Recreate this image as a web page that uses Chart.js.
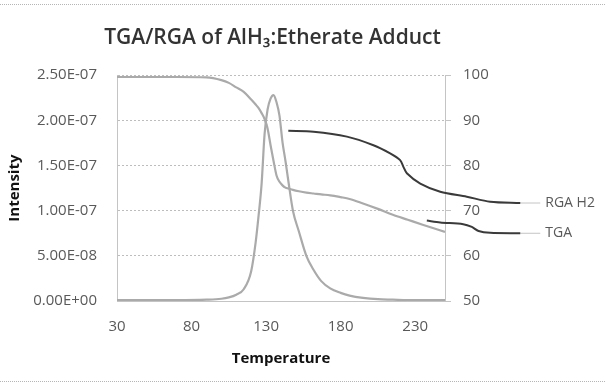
<!DOCTYPE html>
<html>
<head>
<meta charset="utf-8">
<script src="https://cdn.jsdelivr.net/npm/chart.js@4/dist/chart.umd.min.js"></script>
<style>
  body { margin: 0; background: #fff; }
  #wrap { position: relative; width: 605px; height: 390px; }
  .rule { position: absolute; left: 0; width: 605px; border-top: 1px dotted #b5b5b5; }
</style>
</head>
<body>
<div id="wrap">
  <div class="rule" style="top:4px"></div>
  <div class="rule" style="top:381px"></div>
  <canvas id="chart"></canvas>
</div>
<script>
// Temperature samples shared by both measured curves
const temps = [30, 50, 70, 90, 100, 105, 110, 115, 120, 123, 125, 127, 129, 131, 133, 135, 137, 139, 141, 143, 145, 148, 152, 157, 162, 167, 173, 180, 186, 195, 205, 215, 225, 235, 250];
// RGA H2 intensity (left axis)
const rgaH2 = [0.01e-7, 0.01e-7, 0.01e-7, 0.015e-7, 0.025e-7, 0.04e-7, 0.07e-7, 0.13e-7, 0.33e-7, 0.65e-7, 0.95e-7, 1.3e-7, 1.85e-7, 2.12e-7, 2.24e-7, 2.28e-7, 2.2e-7, 2.05e-7, 1.76e-7, 1.55e-7, 1.32e-7, 1.0e-7, 0.77e-7, 0.5e-7, 0.34e-7, 0.22e-7, 0.14e-7, 0.09e-7, 0.06e-7, 0.035e-7, 0.02e-7, 0.015e-7, 0.01e-7, 0.01e-7, 0.01e-7];
// TGA weight % (right axis)
const tga = [99.6, 99.6, 99.6, 99.5, 98.9, 98.3, 97.3, 96.3, 94.6, 93.5, 92.7, 91.6, 90.3, 88.2, 84.5, 81.0, 77.8, 76.4, 75.6, 75.1, 74.9, 74.6, 74.3, 74.0, 73.8, 73.6, 73.4, 73.0, 72.6, 71.6, 70.4, 69.1, 68.0, 66.9, 65.3];

// Callout leader lines (drawn from the label back towards the curve)
const rgaLeaderT = [300.5, 280.3, 264.6, 246.8, 233.4, 224.4, 222.1, 219.9, 213.2, 202, 184.2, 161.8, 144.9];
const rgaLeaderV = [71.7, 72.0, 73.1, 74.2, 76.0, 78.3, 79.7, 81.2, 82.7, 84.5, 86.4, 87.5, 87.7];
const tgaLeaderT = [300.5, 280.3, 272.5, 268, 262.2, 246.8, 237.8];
const tgaLeaderV = [65.0, 65.1, 65.5, 66.4, 67.0, 67.4, 67.8];
const tailT = [313.9, 300.5];
const rgaTailV = [71.7, 71.7];
const tgaTailV = [65.0, 65.0];
const calloutLabels = ['RGA H2', 'TGA'];

const xTicks = [30, 80, 130, 180, 230];
const yTicks = [0, 0.5e-7, 1.0e-7, 1.5e-7, 2.0e-7, 2.5e-7];

const FONT = "'Open Sans', sans-serif";
const TICK_COLOR = '#595959';

function pts(xs, ys) {
  return xs.map((x, i) => ({ x: x, y: ys[i] }));
}

function sci(v) {
  if (Math.abs(v) < 1e-20) return '0.00E+00';
  const e = Math.floor(Math.log10(Math.abs(v)) + 1e-9);
  const m = v / Math.pow(10, e);
  return m.toFixed(2) + 'E' + (e < 0 ? '-' : '+') + String(Math.abs(e)).padStart(2, '0');
}

// Writes the callout labels at the end of each thin tail line
const calloutPlugin = {
  id: 'callouts',
  afterDatasetsDraw(chart) {
    const ctx = chart.ctx;
    const xs = chart.scales.x;
    const ys = chart.scales.y2;
    const tails = [rgaTailV, tgaTailV];
    ctx.save();
    ctx.font = '14px ' + FONT;
    ctx.fillStyle = TICK_COLOR;
    ctx.textAlign = 'left';
    ctx.textBaseline = 'middle';
    calloutLabels.forEach((lab, i) => {
      ctx.fillText(lab, xs.getPixelForValue(tailT[0]) + 5, ys.getPixelForValue(tails[i][0]));
    });
    ctx.restore();
  }
};

const curveStyle = { borderColor: '#aaaaaa', borderWidth: 2.2, pointRadius: 0, cubicInterpolationMode: 'monotone', fill: false };
const leaderStyle = { borderColor: '#3a3a3a', borderWidth: 2, pointRadius: 0, tension: 0.3, fill: false, clip: false, yAxisID: 'y2' };
const tailStyle = { borderColor: '#c4c4c4', borderWidth: 1, pointRadius: 0, fill: false, clip: false, yAxisID: 'y2' };

new Chart(document.getElementById('chart'), {
  type: 'line',
  data: {
    datasets: [
      Object.assign({ label: 'RGA H2', data: pts(temps, rgaH2), yAxisID: 'y' }, curveStyle),
      Object.assign({ label: 'TGA', data: pts(temps, tga), yAxisID: 'y2' }, curveStyle),
      Object.assign({ label: 'RGA H2 callout', data: pts(rgaLeaderT, rgaLeaderV) }, leaderStyle),
      Object.assign({ label: 'TGA callout', data: pts(tgaLeaderT, tgaLeaderV) }, leaderStyle),
      Object.assign({ label: 'RGA H2 tail', data: pts(tailT, rgaTailV) }, tailStyle),
      Object.assign({ label: 'TGA tail', data: pts(tailT, tgaTailV) }, tailStyle)
    ]
  },
  options: {
    responsive: true,
    maintainAspectRatio: false,
    animation: false,
    // right padding keeps the title centred over the plot like the original
    layout: { padding: { left: 0, right: 60, top: 0, bottom: 18 } },
    plugins: {
      legend: { display: false },
      tooltip: { enabled: false },
      title: {
        display: true,
        text: 'TGA/RGA of AlH\u2083:Etherate Adduct',
        color: '#333',
        font: { family: FONT, size: 21, weight: '600' },
        padding: { top: 25, bottom: 25 }
      }
    },
    scales: {
      x: {
        type: 'linear',
        min: 30,
        max: 250,
        afterBuildTicks: s => { s.ticks = xTicks.map(v => ({ value: v })); },
        afterFit: s => { s.height = 71; },
        grid: { display: false },
        border: { color: '#c4c4c4', dash: [2, 2] },
        ticks: { color: TICK_COLOR, font: { family: FONT, size: 15 }, padding: 9 },
        title: { display: true, text: 'Temperature', color: '#111', font: { family: FONT, size: 15, weight: 'bold' }, padding: { bottom: 4 } }
      },
      y: {
        position: 'left',
        min: 0,
        max: 2.5e-7,
        afterBuildTicks: s => { s.ticks = yTicks.map(v => ({ value: v })); },
        afterFit: s => { s.width = 117; },
        grid: { color: '#bdbdbd', drawTicks: false },
        border: { color: '#c4c4c4', dash: [2, 2] },
        ticks: { color: TICK_COLOR, font: { family: FONT, size: 15 }, padding: 20, callback: v => sci(v) },
        title: { display: true, text: 'Intensity', color: '#111', font: { family: FONT, size: 15, weight: 'bold' }, padding: { top: 6 } }
      },
      y2: {
        position: 'right',
        min: 50,
        max: 100,
        ticks: { stepSize: 10, color: TICK_COLOR, font: { family: FONT, size: 15 }, padding: 12 },
        afterFit: s => { s.width = 100; },
        grid: { drawOnChartArea: false, drawTicks: true, tickLength: 6, tickColor: '#c4c4c4' },
        border: { color: '#c4c4c4', dash: [2, 2] }
      }
    }
  },
  plugins: [calloutPlugin]
});
</script>
</body>
</html>
